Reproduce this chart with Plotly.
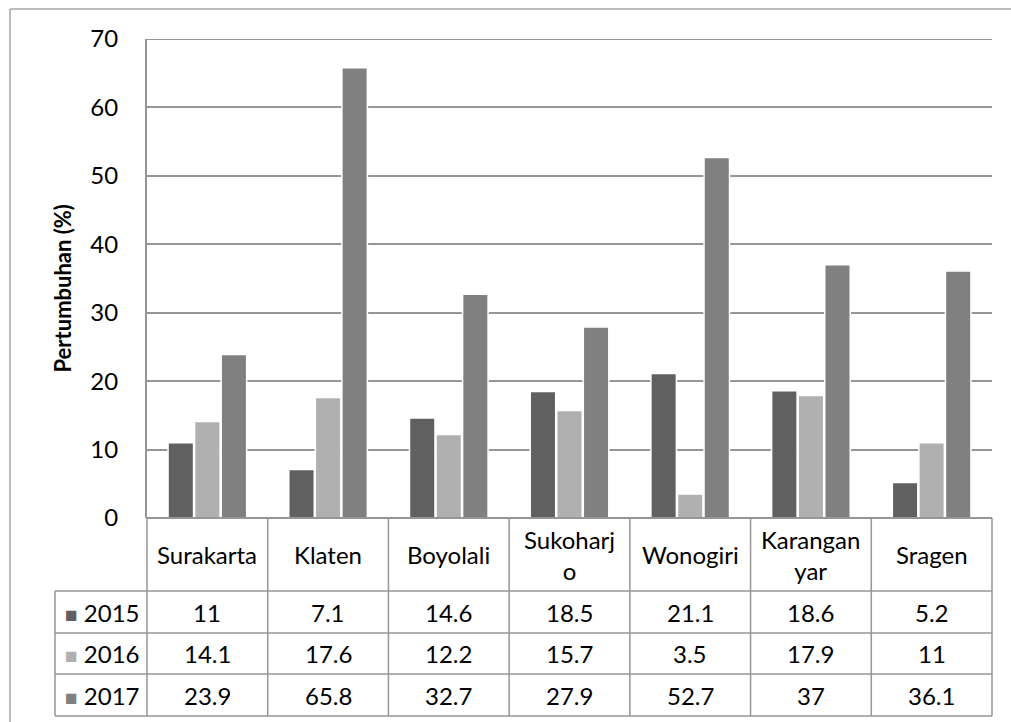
import plotly.graph_objects as go

categories = ["Surakarta", "Klaten", "Boyolali", "Sukoharjo", "Wonogiri", "Karangan yar", "Sragen"]
cat_labels = ["Surakarta", "Klaten", "Boyolali", "Sukoharj<br>o", "Wonogiri", "Karangan<br>yar", "Sragen"]
years = ["2015", "2016", "2017"]
v2015 = [11, 7.1, 14.6, 18.5, 21.1, 18.6, 5.2]
v2016 = [14.1, 17.6, 12.2, 15.7, 3.5, 17.9, 11]
v2017 = [23.9, 65.8, 32.7, 27.9, 52.7, 37, 36.1]
y_ticks = [0, 10, 20, 30, 40, 50, 60, 70]
y_title = "Pertumbuhan (%)"

series = [v2015, v2016, v2017]
colors = ["#606060", "#b0b0b0", "#808080"]

W, H = 1011, 722
def px(x):
    return x / W
def py(y):
    return 1 - y / H

FONT = "Lato"
FS = 24
GRID = "#969696"

fig = go.Figure()
for name, vals, col in zip(years, series, colors):
    fig.add_trace(go.Bar(
        x=categories, y=vals, name=name,
        marker=dict(color=col, line=dict(color="white", width=1.5)),
        showlegend=False,
    ))

x_left, x_right = 147, 992
y_top, y_zero = 39, 518
row_edges = [591, 633, 674, 716]
leg_left = 55

shapes = []
line = dict(color=GRID, width=1.5)
# outer frame
shapes.append(dict(type="line", xref="paper", yref="paper", x0=px(10), x1=1, y0=py(9), y1=py(9), line=dict(color="#a6a6a6", width=1.5)))
shapes.append(dict(type="line", xref="paper", yref="paper", x0=px(10), x1=px(10), y0=py(9), y1=0, line=dict(color="#a6a6a6", width=1.5)))
# top gridline at axis max
shapes.append(dict(type="line", xref="paper", yref="y", x0=px(x_left), x1=px(x_right), y0=y_ticks[-1], y1=y_ticks[-1], line=dict(color=GRID, width=2)))
# table horizontal lines
shapes.append(dict(type="line", xref="paper", yref="paper", x0=px(x_left), x1=px(x_right), y0=py(y_zero), y1=py(y_zero), line=dict(color=GRID, width=2)))
for ry in row_edges:
    shapes.append(dict(type="line", xref="paper", yref="paper", x0=px(leg_left), x1=px(x_right), y0=py(ry), y1=py(ry), line=line))
# verticals
shapes.append(dict(type="line", xref="paper", yref="paper", x0=px(leg_left), x1=px(leg_left), y0=py(row_edges[0]), y1=py(row_edges[-1]), line=line))
n = len(categories)
cw = (x_right - x_left) / n
for i in range(n + 1):
    xx = x_left + i * cw
    shapes.append(dict(type="line", xref="paper", yref="paper", x0=px(xx), x1=px(xx), y0=py(y_zero), y1=py(row_edges[-1]), line=line))

annotations = []
# y title
annotations.append(dict(text="<b>" + y_title + "</b>", xref="paper", yref="paper",
                        x=px(62), y=py((y_top + y_zero) / 2 + 10), textangle=-90, showarrow=False,
                        font=dict(family=FONT, size=22, color="black"), xanchor="center", yanchor="middle"))
# header labels
for c, lab in zip(categories, cat_labels):
    annotations.append(dict(text=lab, x=c, xref="x", yref="paper", y=py((y_zero + row_edges[0]) / 2),
                            showarrow=False, font=dict(family=FONT, size=FS, color="black"),
                            xanchor="center", yanchor="middle"))
# rows
for r, (name, vals, col) in enumerate(zip(years, series, colors)):
    yc = py((row_edges[r] + row_edges[r + 1]) / 2)
    annotations.append(dict(text=f"<span style='color:{col};font-size:21px'>■</span> {name}", xref="paper", yref="paper",
                            x=px(leg_left + 8), y=yc, showarrow=False, xanchor="left", yanchor="middle",
                            font=dict(family=FONT, size=FS, color="black")))
    for c, v in zip(categories, vals):
        annotations.append(dict(text=f"{v:g}", x=c, xref="x", yref="paper", y=yc, showarrow=False,
                                font=dict(family=FONT, size=FS, color="black"),
                                xanchor="center", yanchor="middle"))

fig.update_layout(
    template="none",
    width=W, height=H,
    margin=dict(l=0, r=0, t=0, b=0, pad=0, autoexpand=False),
    paper_bgcolor="white", plot_bgcolor="white",
    barmode="group", bargap=0.34, bargroupgap=0.04,
    xaxis=dict(domain=[px(x_left), px(x_right)], showticklabels=False, showgrid=False,
               zeroline=False, showline=False, ticks="", automargin=False),
    yaxis=dict(domain=[py(y_zero), py(y_top)], range=[0, 70], tickvals=y_ticks,
               showgrid=True, gridcolor=GRID, gridwidth=2, zeroline=False,
               showline=True, linecolor=GRID, linewidth=2, ticks="",
               ticklabelstandoff=22, automargin=False,
               tickfont=dict(family=FONT, size=FS, color="black")),
    shapes=shapes, annotations=annotations,
    font=dict(family=FONT),
)
fig.write_html("out.html")
